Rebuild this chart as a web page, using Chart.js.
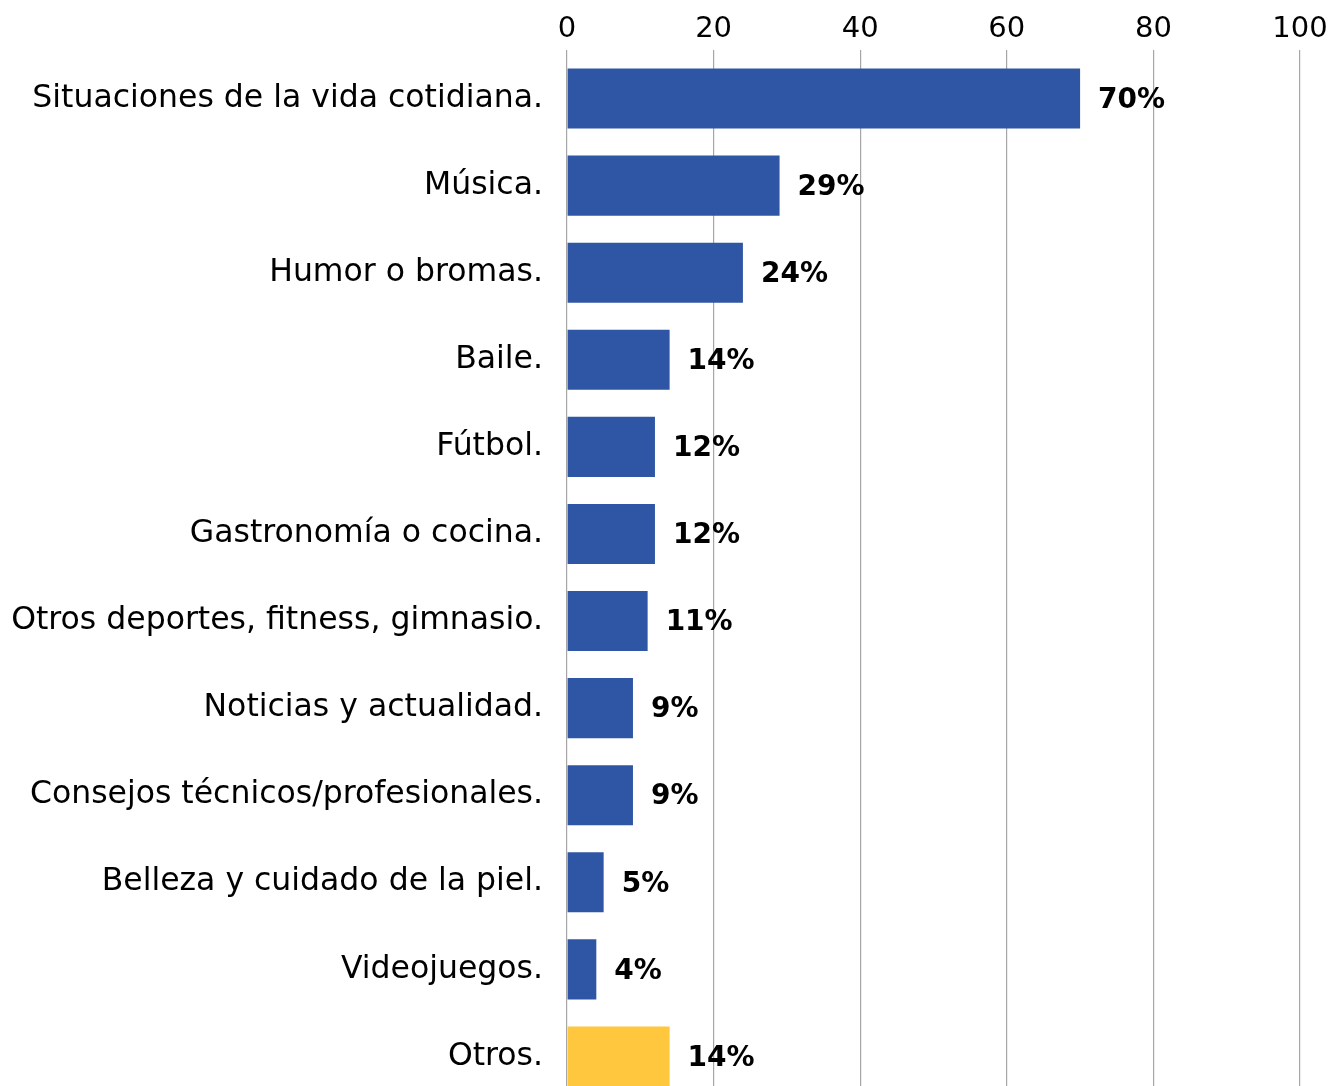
<!DOCTYPE html>
<html>
<head>
<meta charset="utf-8">
<script src="https://cdn.jsdelivr.net/npm/chart.js@4"></script>
<style>
  html, body { margin: 0; padding: 0; background: #fff; overflow: hidden; }
  canvas { display: block; }
</style>
</head>
<body>
<canvas id="bar-chart" width="1331" height="1100"></canvas>
<script>
// temas de los vídeos
var categories = [
  "Situaciones de la vida cotidiana.",
  "Música.",
  "Humor o bromas.",
  "Baile.",
  "Fútbol.",
  "Gastronomía o cocina.",
  "Otros deportes, fitness, gimnasio.",
  "Noticias y actualidad.",
  "Consejos técnicos/profesionales.",
  "Belleza y cuidado de la piel.",
  "Videojuegos.",
  "Otros."
];
var values = [70, 29, 24, 14, 12, 12, 11, 9, 9, 5, 4, 14];
var barColors = ["#2F56A5","#2F56A5","#2F56A5","#2F56A5","#2F56A5","#2F56A5",
                 "#2F56A5","#2F56A5","#2F56A5","#2F56A5","#2F56A5","#FFC73E"];
var xTicks = [0, 20, 40, 60, 80, 100];

var FONT = "'DejaVu Sans', sans-serif";

// draws "NN%" to the right of each bar
var valueLabels = {
  id: 'valueLabels',
  afterDatasetsDraw: function(chart) {
    var ctx = chart.ctx;
    var meta = chart.getDatasetMeta(0);
    ctx.save();
    ctx.font = "bold 28px " + FONT;
    ctx.fillStyle = "#000";
    ctx.textAlign = "left";
    ctx.textBaseline = "middle";
    meta.data.forEach(function(bar, i) {
      ctx.fillText(values[i] + "%", bar.x + 18, bar.y + 2);
    });
    ctx.restore();
  }
};

new Chart(document.getElementById("bar-chart"), {
  type: 'bar',
  data: {
    labels: categories,
    datasets: [{
      data: values,
      backgroundColor: barColors,
      categoryPercentage: 1,
      barPercentage: 0.69
    }]
  },
  options: {
    indexAxis: 'y',
    responsive: false,
    animation: false,
    layout: { padding: { left: 0, right: 31, top: 0, bottom: 0 } },
    plugins: {
      legend: { display: false },
      tooltip: { enabled: false }
    },
    scales: {
      x: {
        position: 'top',
        min: 0,
        max: 100,
        afterBuildTicks: function(s) { s.ticks = xTicks.map(function(v) { return { value: v }; }); },
        afterFit: function(s) { s.height = 55; },
        ticks: { color: "#000", padding: 3, font: { family: FONT, size: 29 } },
        grid: { color: "#A6A6A6", lineWidth: 1.2, tickLength: 5 },
        border: { display: false }
      },
      y: {
        afterFit: function(s) {
          s.width = 567;
          s.paddingTop = 0;
          s.paddingBottom = 0;
        },
        ticks: { color: "#000", padding: 24, font: { family: FONT, size: 31.5 } },
        grid: { display: false, drawTicks: false },
        border: { display: false }
      }
    }
  },
  plugins: [valueLabels]
});
</script>
</body>
</html>
